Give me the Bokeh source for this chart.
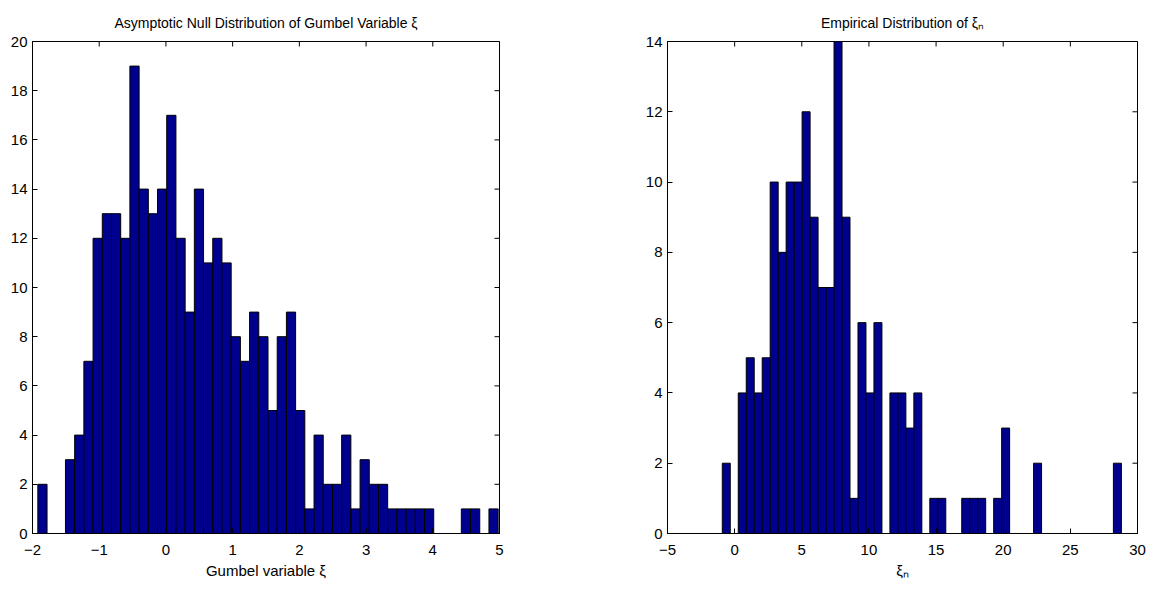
import numpy as np
from bokeh.plotting import figure
from bokeh.models import Range1d, FixedTicker
from bokeh.layouts import row
from bokeh.embed import file_html
from bokeh.resources import INLINE

# ---- data ----
left_title = "Asymptotic Null Distribution of Gumbel Variable ξ"
left_xlabel = "Gumbel variable ξ"
left_min, left_max = -1.92, 4.98
left_counts = [2, 0, 0, 3, 4, 7, 12, 13, 13, 12, 19, 14, 13, 14, 17, 12, 9, 14, 11, 12,
               11, 8, 7, 9, 8, 5, 8, 9, 5, 1, 4, 2, 2, 4, 1, 3, 2, 2, 1, 1,
               1, 1, 1, 0, 0, 0, 1, 1, 0, 1]
left_xticks = [-2, -1, 0, 1, 2, 3, 4, 5]
left_yticks = [0, 2, 4, 6, 8, 10, 12, 14, 16, 18, 20]

right_title = "Empirical Distribution of ξₙ"
right_xlabel = "ξₙ"
right_min, right_max = -0.92, 28.8
right_counts = [2, 0, 4, 5, 4, 5, 10, 8, 10, 10, 12, 9, 7, 7, 14, 9, 1, 6, 4, 6,
                0, 4, 4, 3, 4, 0, 1, 1, 0, 0, 1, 1, 1, 0, 1, 3, 0, 0, 0, 2,
                0, 0, 0, 0, 0, 0, 0, 0, 0, 2]
right_xticks = [-5, 0, 5, 10, 15, 20, 25, 30]
right_yticks = [0, 2, 4, 6, 8, 10, 12, 14]

FONT = "'Liberation Sans', Arial, sans-serif"
FS = "15px"
TFS = "14px"
BAR = "#00008F"


def minus(v):
    return ("\u2212" + str(-v)) if v < 0 else str(v)


def make_fig(width, mbl, mbr, counts, lo, hi, xr, yr, xticks, yticks, title, xlabel):
    p = figure(width=width, height=592, x_range=Range1d(*xr), y_range=Range1d(*yr),
               output_backend="svg", toolbar_location=None, title=title,
               min_border_left=mbl, min_border_right=mbr,
               min_border_top=41, min_border_bottom=59)
    edges = np.linspace(lo, hi, len(counts) + 1)
    p.quad(left=edges[:-1], right=edges[1:], bottom=0, top=counts,
           fill_color=BAR, line_color="black", line_width=1)
    p.grid.grid_line_color = None
    p.outline_line_color = "black"
    p.outline_line_alpha = 1
    p.outline_line_width = 1
    p.background_fill_color = "white"
    p.border_fill_color = "white"

    p.title.text_font = FONT
    p.title.text_font_size = TFS
    p.title.text_font_style = "normal"
    p.title.align = "center"
    p.title.text_color = "black"
    p.title.standoff = 22

    for ax, ticks in ((p.xaxis[0], xticks), (p.yaxis[0], yticks)):
        ax.ticker = FixedTicker(ticks=ticks)
        ax.major_label_overrides = {t: minus(t) for t in ticks}
        ax.major_tick_in = 5
        ax.major_tick_out = 0
        ax.minor_tick_line_color = None
        ax.axis_line_color = "black"
        ax.major_tick_line_color = "black"
        ax.major_label_text_font = FONT
        ax.major_label_text_font_size = FS
        ax.major_label_text_color = "black"
    p.xaxis[0].major_label_standoff = 11
    p.yaxis[0].major_label_standoff = 5
    p.xaxis[0].axis_label = xlabel
    p.xaxis[0].axis_label_text_font = FONT
    p.xaxis[0].axis_label_text_font_size = FS
    p.xaxis[0].axis_label_text_font_style = "normal"
    p.xaxis[0].axis_label_text_color = "black"
    p.xaxis[0].axis_label_standoff = 4

    # inward tick marks on the top and right sides of the box (half of each dash is clipped)
    p.scatter(x=xticks, y=[yr[1]] * len(xticks), marker="dash", size=10,
              angle=np.pi / 2, line_color="black", line_width=1)
    p.scatter(x=[xr[1]] * len(yticks), y=yticks, marker="dash", size=10,
              line_color="black", line_width=1)
    return p


p1 = make_fig(600, 32, 101, left_counts, left_min, left_max, (-2, 5), (0, 20),
              left_xticks, left_yticks, left_title, left_xlabel)
p2 = make_fig(561, 67, 24, right_counts, right_min, right_max, (-5, 30), (0, 14),
              right_xticks, right_yticks, right_title, right_xlabel)

layout = row(p1, p2)
open("out.html", "w").write(file_html(layout, INLINE))
